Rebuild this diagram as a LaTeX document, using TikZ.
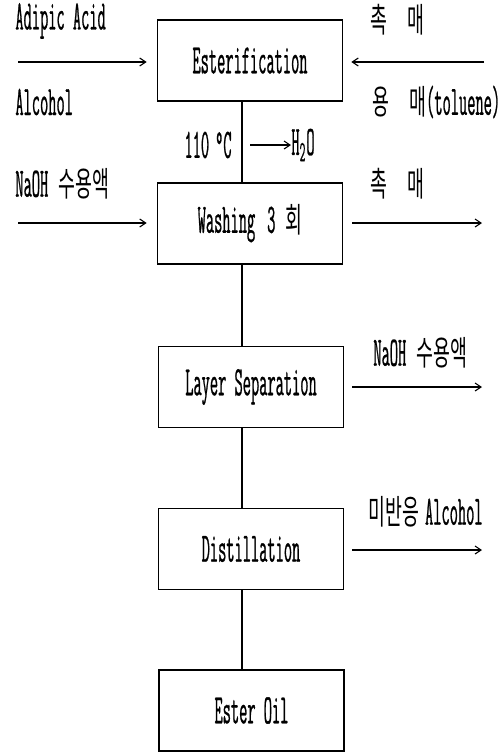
\documentclass[tikz,border=0pt]{standalone}
\usepackage{fontspec}
\setmainfont[FakeStretch=0.38,FakeBold=0.6]{Latin Modern Mono}
\newfontfamily\kr[FakeStretch=0.54]{Noto Sans CJK KR}
\newcommand\kt[1]{{\kr\fontsize{17}{19}\selectfont #1}}
\usetikzlibrary{arrows.meta,calc}
\begin{document}
\begin{tikzpicture}[x=0.5pt,y=-0.5pt,
  font=\fontsize{21}{23}\selectfont,
  box/.style={draw,line width=0.8pt,minimum width=92.5pt,minimum height=40.5pt,inner sep=0pt},
  lab/.style={inner sep=0pt,anchor=west},
  flow/.style={line width=0.55pt,-{Straight Barb[length=3pt,width=4pt]}},
  link/.style={line width=0.6pt}]
\useasboundingbox (0,0) rectangle (500,752);
% boxes
\node[box] (est) at (250,60.5) {Esterification};
\node[box] (wash) at (250,223.5) {Washing\hspace{6pt}3\hspace{5pt}\kt{회}};
\node[box] (lay) at (251,387) {Layer Separation};
\node[box] (dist) at (251,549) {Distillation};
\node[box] (oil) at (251.5,710.5) {Ester Oil};
\coordinate (spine) at (242,0);
% links between boxes
\draw[link] (est.south -| spine) -- (wash.north -| spine);
\draw[link] (wash.south -| spine) -- (lay.north -| spine);
\draw[link] (lay.south -| spine) -- (dist.north -| spine);
\draw[link] (dist.south -| spine) -- (oil.north -| spine);
% labels
\node[lab] (aa) at (15,21) {Adipic Acid};
\node[lab] (alc) at (15,102) {Alcohol};
\node[lab] (cat1) at (370,20) {\kt{촉\hspace{10pt}매}};
\node[lab] (sol) at (372,102) {\kt{용\hspace{10pt}매}(toluene)};
\node[inner sep=0pt,anchor=east] (temp) at (232,145) {110\hspace{3pt}°C};
\node[lab] (h2o) at (291,145) {H\textsubscript{2}O};
\node[lab] (naoh1) at (15,184) {NaOH\hspace{5pt}\kt{수용액}};
\node[lab] (cat2) at (370,184) {\kt{촉\hspace{10pt}매}};
\node[lab] (naoh2) at (373,353) {NaOH\hspace{5pt}\kt{수용액}};
\node[lab] (unre) at (368,512) {\kt{미반응}\hspace{3pt}Alcohol};
% arrow end coordinates
\coordinate (inL1) at (18,62);
\coordinate (inR1) at (484,62);
\coordinate (h2oS) at (250,145);
\coordinate (inL2) at (18,223);
\coordinate (outR2) at (482,223);
\coordinate (outR3) at (482,387);
\coordinate (outR4) at (482,550);
% arrows
\draw[flow] (inL1) -- ($(est.west|-inL1)+(-10,0)$);
\draw[flow] (inR1) -- ($(est.east|-inR1)+(8,0)$);
\draw[flow] (h2oS) -- (h2o.west);
\draw[flow] (inL2) -- ($(wash.west|-inL2)+(-10,0)$);
\draw[flow] ($(wash.east|-outR2)+(9,0)$) -- (outR2);
\draw[flow] ($(lay.east|-outR3)+(8,0)$) -- (outR3);
\draw[flow] ($(dist.east|-outR4)+(8,0)$) -- (outR4);
\end{tikzpicture}
\end{document}
